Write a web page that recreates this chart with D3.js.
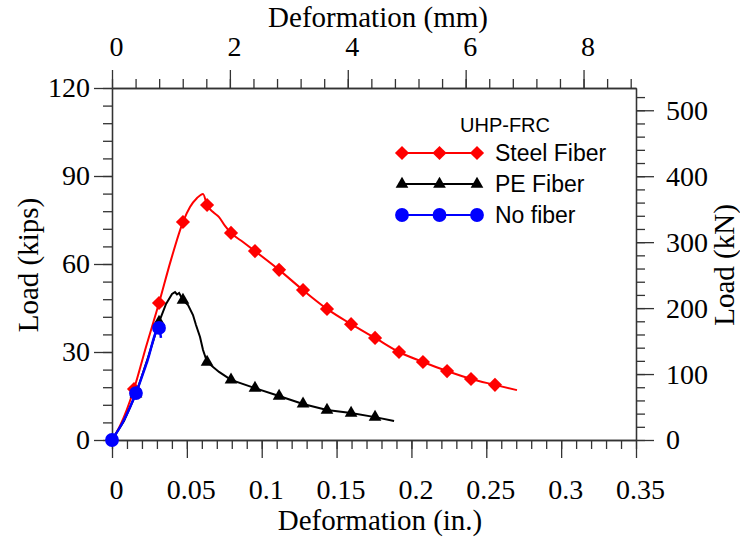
<!DOCTYPE html>
<html>
<head>
<meta charset="utf-8">
<script src="https://cdn.jsdelivr.net/npm/d3@7"></script>
<style>
  body { margin: 0; background: #fff; }
  svg text { fill: #000; }
</style>
</head>
<body>
<div id="chart"></div>
<script>
// deformation (in.) and load (kips)
const steelX = [0, 0.0053, 0.0147, 0.0227, 0.0314, 0.0394, 0.0474, 0.0521, 0.0568, 0.0608, 0.0635, 0.0675, 0.0715, 0.0755, 0.0795, 0.0875, 0.0955, 0.1116, 0.1276, 0.1436, 0.1597, 0.1757, 0.1917, 0.2077, 0.2238, 0.2398, 0.2558, 0.2705];
const steelY = [0, 4.8, 17.4, 31.7, 46.7, 61.4, 74.3, 79.4, 82.5, 83.9, 80.1, 77.7, 76.0, 73.0, 70.6, 67.5, 64.4, 58.0, 51.1, 44.7, 39.5, 34.8, 30.0, 26.6, 23.5, 20.8, 18.8, 17.0];
const steelMarks = [0.0147, 0.0314, 0.0474, 0.0635, 0.0795, 0.0955, 0.1116, 0.1276, 0.1436, 0.1597, 0.1757, 0.1917, 0.2077, 0.2238, 0.2398, 0.2558];

const peX = [0, 0.008, 0.016, 0.024, 0.0314, 0.0361, 0.0401, 0.0421, 0.0434, 0.0448, 0.0474, 0.0508, 0.0541, 0.0561, 0.0588, 0.0608, 0.0635, 0.0715, 0.0795, 0.0955, 0.1116, 0.1276, 0.1436, 0.1597, 0.1757, 0.1884];
const peY = [0, 6.5, 15.7, 28.0, 40.2, 46.4, 49.8, 50.4, 49.6, 50.1, 47.7, 46.0, 42.6, 39.2, 35.1, 30.7, 26.6, 23.2, 20.5, 17.7, 15.0, 12.3, 10.2, 9.2, 7.8, 6.5];
const peMarks = [0.016, 0.0314, 0.0474, 0.0635, 0.0795, 0.0955, 0.1116, 0.1276, 0.1436, 0.1597, 0.1757];

const noX = [0, 0.008, 0.016, 0.0234, 0.0314, 0.0327];
const noY = [0, 6.8, 16.0, 26.6, 38.2, 34.8];
const noMarks = [0, 0.016, 0.0314];

const seriesNames = ['Steel Fiber', 'PE Fiber', 'No fiber'];
const seriesColors = ['#ff0000', '#000000', '#0000ff'];
const legendTitle = 'UHP-FRC';

const inTicks = [0, 0.05, 0.1, 0.15, 0.2, 0.25, 0.3, 0.35];
const mmTicks = [0, 2, 4, 6, 8];
const kipTicks = [0, 30, 60, 90, 120];
const kNTicks = [0, 100, 200, 300, 400, 500];

const KN_PER_KIP = 4.448;
const MM_PER_IN = 25.4;

const width = 740, height = 537;
const pLeft = 112, pRight = 636, pTop = 88, pBottom = 440;

const svg = d3.select('#chart').append('svg')
  .attr('width', width)
  .attr('height', height);

const x = d3.scaleLinear().domain([0, 0.35]).range([pLeft, pRight]);
const xmm = d3.scaleLinear().domain([0, 0.35 * MM_PER_IN]).range([pLeft, pRight]);
const y = d3.scaleLinear().domain([0, 120]).range([pBottom, pTop]);
const ykN = d3.scaleLinear().domain([0, 120 * KN_PER_KIP]).range([pBottom, pTop]);

const serif = '"Liberation Serif", "Times New Roman", serif';
const sans = '"Liberation Sans", Arial, sans-serif';
const axisColor = '#333';
const major = 18, minor = 9;

function styleAxis(g) {
  g.selectAll('path, line').attr('stroke', axisColor).attr('stroke-width', 1.3);
  g.selectAll('text').attr('font-family', serif).attr('font-size', 28).attr('fill', '#000');
}

// minor ticks
svg.append('g').attr('transform', `translate(0,${pBottom})`)
  .call(d3.axisBottom(x).tickValues(d3.range(0, 0.351, 0.01)).tickSize(minor).tickSizeOuter(0).tickFormat(''))
  .call(styleAxis);
svg.append('g').attr('transform', `translate(0,${pTop})`)
  .call(d3.axisTop(xmm).tickValues(d3.range(0, 8.81, 0.4)).tickSize(minor).tickSizeOuter(0).tickFormat(''))
  .call(styleAxis);
svg.append('g').attr('transform', `translate(${pLeft},0)`)
  .call(d3.axisLeft(y).tickValues(d3.range(0, 120.1, 6)).tickSize(minor).tickSizeOuter(0).tickFormat(''))
  .call(styleAxis);
svg.append('g').attr('transform', `translate(${pRight},0)`)
  .call(d3.axisRight(ykN).tickValues(d3.range(0, 521, 20)).tickSize(minor).tickSizeOuter(0).tickFormat(''))
  .call(styleAxis);

// major ticks + labels
svg.append('g').attr('transform', `translate(0,${pBottom})`)
  .call(d3.axisBottom(x).tickValues(inTicks).tickSize(major).tickPadding(21).tickSizeOuter(0).tickFormat(d => String(+d.toFixed(2))))
  .call(styleAxis)
  .selectAll('text').attr('dx', 4);
svg.append('g').attr('transform', `translate(0,${pTop})`)
  .call(d3.axisTop(xmm).tickValues(mmTicks).tickSize(major).tickPadding(14).tickSizeOuter(0).tickFormat(d3.format('d')))
  .call(styleAxis)
  .selectAll('text').attr('dx', 4);
svg.append('g').attr('transform', `translate(${pLeft},0)`)
  .call(d3.axisLeft(y).tickValues(kipTicks).tickSize(major).tickPadding(4).tickSizeOuter(0).tickFormat(d3.format('d')))
  .call(styleAxis);
svg.append('g').attr('transform', `translate(${pRight},0)`)
  .call(d3.axisRight(ykN).tickValues(kNTicks).tickSize(major).tickPadding(12).tickSizeOuter(0).tickFormat(d3.format('d')))
  .call(styleAxis);

// axis titles
svg.append('text').attr('x', 378).attr('y', 17).attr('dy', '0.35em')
  .attr('text-anchor', 'middle').attr('font-family', serif).attr('font-size', 29)
  .text('Deformation (mm)');
svg.append('text').attr('x', 380).attr('y', 520).attr('dy', '0.35em')
  .attr('text-anchor', 'middle').attr('font-family', serif).attr('font-size', 29)
  .text('Deformation (in.)');
svg.append('text').attr('transform', 'translate(28,265) rotate(-90)').attr('dy', '0.35em')
  .attr('text-anchor', 'middle').attr('font-family', serif).attr('font-size', 29)
  .text('Load (kips)');
svg.append('text').attr('transform', 'translate(724,265) rotate(-90)').attr('dy', '0.35em')
  .attr('text-anchor', 'middle').attr('font-family', serif).attr('font-size', 29)
  .text('Load (kN)');

// curves
const series = [
  { xs: steelX, ys: steelY, marks: steelMarks, curve: d3.curveMonotoneX, symbol: 'diamond' },
  { xs: peX, ys: peY, marks: peMarks, curve: d3.curveLinear, symbol: 'triangle' },
  { xs: noX, ys: noY, marks: noMarks, curve: d3.curveMonotoneX, symbol: 'circle' }
];

function markerPath(kind) {
  if (kind === 'diamond') return d3.symbol().type(d3.symbolSquare).size(100)();
  if (kind === 'triangle') return d3.symbol().type(d3.symbolTriangle).size(70)();
  return d3.symbol().type(d3.symbolCircle).size(150)();
}
function markerTransform(kind, px, py) {
  return kind === 'diamond' ? `translate(${px},${py}) rotate(45)` : `translate(${px},${py})`;
}

series.forEach((s, i) => {
  const pts = s.xs.map((v, j) => [v, s.ys[j]]);
  const line = d3.line().x(d => x(d[0])).y(d => y(d[1])).curve(s.curve);
  svg.append('path').datum(pts)
    .attr('d', line)
    .attr('fill', 'none')
    .attr('stroke', seriesColors[i])
    .attr('stroke-width', i === 2 ? 2.5 : 2);

  const loadAt = v => {
    const k = s.xs.indexOf(v);
    return k >= 0 ? s.ys[k] : 0;
  };
  svg.append('g').selectAll('path').data(s.marks).join('path')
    .attr('d', markerPath(s.symbol))
    .attr('transform', d => markerTransform(s.symbol, x(d), y(loadAt(d))))
    .attr('fill', seriesColors[i]);
});

// legend
const legend = svg.append('g');
legend.append('text').attr('x', 505).attr('y', 125).attr('dy', '0.35em')
  .attr('text-anchor', 'middle').attr('font-family', sans).attr('font-size', 20)
  .text(legendTitle);
const rowY = [153, 184, 215];
seriesNames.forEach((name, i) => {
  const ly = rowY[i];
  legend.append('line').attr('x1', 402).attr('x2', 477).attr('y1', ly).attr('y2', ly)
    .attr('stroke', seriesColors[i]).attr('stroke-width', 2);
  [402, 439.5, 477].forEach(lx => {
    legend.append('path')
      .attr('d', markerPath(series[i].symbol))
      .attr('transform', markerTransform(series[i].symbol, lx, ly))
      .attr('fill', seriesColors[i]);
  });
  legend.append('text').attr('x', 495).attr('y', ly).attr('dy', '0.35em')
    .attr('font-family', sans).attr('font-size', 23)
    .text(name);
});
</script>
</body>
</html>
